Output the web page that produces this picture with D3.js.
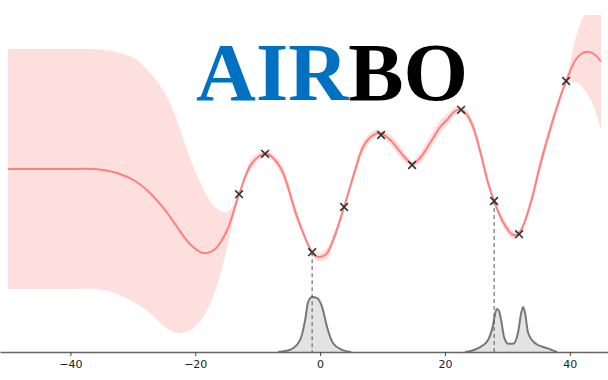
<!DOCTYPE html>
<html><head><meta charset="utf-8">
<script src="https://cdn.jsdelivr.net/npm/d3@7"></script>
<style>body{margin:0;background:#fff}svg{display:block}</style>
</head><body>
<svg id="chart" width="608" height="380"></svg>
<script>
// GP posterior mean samples (x, mean, std)
const gpX = [-50,-41.65,-35.25,-32.52,-29.64,-27.24,-24.83,-22.91,-20.83,-18.74,-16.82,-14.90,-12.98,-10.89,-8.65,-6.41,-3.68,-1.28,-0.32,0.96,2.08,3.84,5.61,6.89,8.33,9.61,11.21,12.34,13.62,14.74,16.02,17.62,19.22,20.35,21.63,22.59,23.55,24.51,25.63,26.91,27.88,29.32,30.92,31.88,33.64,35.25,36.37,37.81,39.41,41.17,42.77,44.06,45];
const gpMean = [0,0,-0.01,-0.10,-0.30,-0.60,-1.03,-1.45,-1.88,-2.10,-2.00,-1.53,-0.63,0.15,0.38,0.05,-1.20,-2.08,-2.20,-2.13,-1.78,-0.95,-0.03,0.55,0.83,0.90,0.73,0.53,0.28,0.13,0.28,0.65,1.05,1.23,1.45,1.48,1.35,1.05,0.45,-0.35,-0.80,-1.33,-1.65,-1.60,-0.90,0.10,0.73,1.48,2.20,2.78,2.93,2.85,2.68];
const gpStd = [3.0,3.0,3.0,3.02,3.05,3.0,2.92,2.65,2.15,1.6,1.05,0.45,0.06,0.13,0.07,0.13,0.14,0.07,0.1,0.13,0.12,0.07,0.13,0.14,0.11,0.07,0.12,0.14,0.12,0.07,0.13,0.16,0.16,0.14,0.1,0.07,0.11,0.14,0.15,0.12,0.07,0.12,0.1,0.07,0.13,0.16,0.16,0.14,0.07,0.62,1.05,1.38,1.7];

// Observations
const obsX = [-12.98,-8.81,-1.28,3.84,9.77,14.74,22.59,27.88,31.88,39.41];
const obsY = [-0.63,0.38,-2.08,-0.95,0.85,0.10,1.48,-0.80,-1.63,2.20];

// Acquisition function (two lobes)
const acqX1 = [-6.73,-4.81,-3.20,-2.40,-1.92,-1.28,-0.48,0.32,1.12,2.08,3.52,4.97];
const acqY1 = [0,0.04,0.22,0.58,0.91,1.0,0.98,0.82,0.45,0.16,0.04,0];
const acqX2 = [23.23,25.63,26.91,27.72,28.04,28.36,28.68,29.00,29.48,30.12,30.92,31.72,32.20,32.52,32.84,33.32,34.44,36.37,37.97];
const acqY2 = [0,0.09,0.22,0.5,0.7,0.78,0.74,0.58,0.27,0.15,0.15,0.36,0.7,0.82,0.7,0.35,0.16,0.07,0];

// Selected points (dashed markers)
const selX = [-1.28, 27.88];
const selY = [-2.08, -0.80];

const xTicks = [-40,-20,0,20,40];
const titleParts = ["AIR","BO"];

const svg = d3.select("#chart");
const x = d3.scaleLinear().domain([-51.28, 46.12]).range([0, 608]);
const y = d3.scaleLinear().domain([-4.575, 3.85]).range([352, 15]);
const ya = d3.scaleLinear().domain([0, 1]).range([352, 297]);

svg.append("defs").append("clipPath").attr("id","clip")
  .append("rect").attr("x",0).attr("y",15).attr("width",608).attr("height",337);

const gp = gpX.map((v,i)=>({x:v,m:gpMean[i],s:gpStd[i]}));
const plot = svg.append("g").attr("clip-path","url(#clip)");

plot.append("path").datum(gp)
  .attr("d", d3.area().x(d=>x(d.x)).y0(d=>y(d.m-d.s)).y1(d=>y(d.m+d.s)).curve(d3.curveCatmullRom))
  .attr("fill","#fde0dd").attr("stroke","none");

plot.append("path").datum(gp)
  .attr("d", d3.line().x(d=>x(d.x)).y(d=>y(d.m)).curve(d3.curveCatmullRom))
  .attr("fill","none").attr("stroke","#ff7f7f").attr("stroke-width",2);

// acquisition
[[acqX1,acqY1],[acqX2,acqY2]].forEach(([ax,ay])=>{
  const pts = ax.map((v,i)=>({x:v,a:ay[i]}));
  svg.append("path").datum(pts)
    .attr("d", d3.area().x(d=>x(d.x)).y0(ya(0)).y1(d=>ya(d.a)).curve(d3.curveMonotoneX))
    .attr("fill","#e3e3e3").attr("stroke","none");
  svg.append("path").datum(pts)
    .attr("d", d3.line().x(d=>x(d.x)).y(d=>ya(d.a)).curve(d3.curveMonotoneX))
    .attr("fill","none").attr("stroke","#777").attr("stroke-width",2);
});

// dashed lines
selX.forEach((v,i)=>{
  svg.append("line").attr("x1",x(v)).attr("x2",x(v)).attr("y1",y(selY[i])).attr("y2",352)
    .attr("stroke","#555").attr("stroke-width",1).attr("stroke-dasharray","4,3");
});

// axis
const axis = svg.append("g").attr("transform","translate(0,352)")
  .call(d3.axisBottom(x).tickValues(xTicks).tickSize(4).tickSizeOuter(0).tickPadding(4));
axis.select(".domain").attr("stroke","#666").attr("stroke-width",1.5);
axis.selectAll(".tick line").attr("stroke","#444").attr("stroke-width",1);
axis.selectAll(".tick text").attr("font-family","DejaVu Sans").attr("font-size",11).attr("fill","#222");

// observations
svg.selectAll(".obs").data(obsX).enter().append("path")
  .attr("transform",(d,i)=>`translate(${x(d)},${y(obsY[i])})`)
  .attr("d", d3.symbol().type(d3.symbolX).size(40)())
  .attr("fill","none").attr("stroke","#333").attr("stroke-width",1.6);

// title
const t = svg.append("text").attr("x",196).attr("y",100)
  .attr("font-family","Liberation Serif").attr("font-weight","bold").attr("font-size",83);
t.append("tspan").attr("fill","#0070c0").text(titleParts[0]);
t.append("tspan").attr("fill","#000").text(titleParts[1]);
</script>
</body></html>
